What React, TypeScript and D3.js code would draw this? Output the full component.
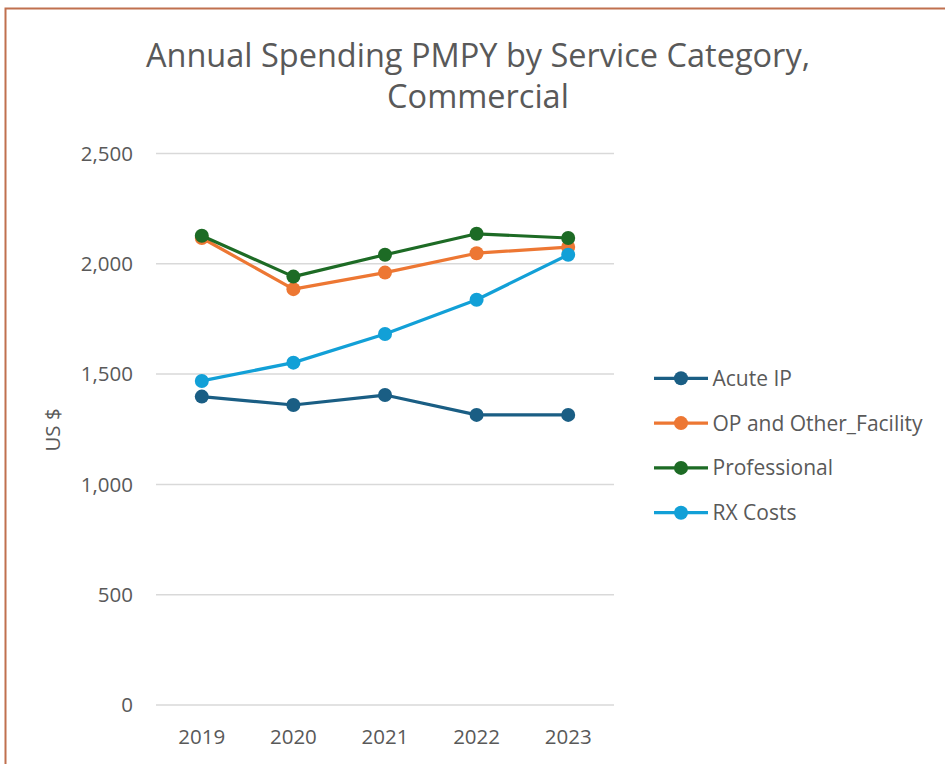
import React from "react";
import * as d3 from "d3";

const years = ["2019", "2020", "2021", "2022", "2023"];
const acuteIP = [1398, 1360, 1405, 1315, 1315];
const opOther = [2117, 1885, 1960, 2048, 2076];
const professional = [2127, 1942, 2041, 2136, 2117];
const rxCosts = [1469, 1552, 1682, 1837, 2041];
const yTicks = [0, 500, 1000, 1500, 2000, 2500];
const seriesNames = ["Acute IP", "OP and Other_Facility", "Professional", "RX Costs"];
const seriesColors = ["#1a5e84", "#ed7733", "#1d6b25", "#12a0d7"];
const titleLines = ["Annual Spending PMPY by Service Category,", "Commercial"];
const yAxisTitle = "US $";

const W = 945;
const H = 764;
const FONT = "'Open Sans', sans-serif";
const TEXT = "#595959";

export default function App() {
  const x = d3.scaleBand<string>().domain(years).range([156, 614]).padding(0);
  const y = d3.scaleLinear().domain([0, 2500]).range([705, 153.5]);
  const cx = (yr: string) => (x(yr) as number) + x.bandwidth() / 2;
  const allSeries = [acuteIP, opOther, professional, rxCosts];
  const line = d3
    .line<number>()
    .x((_, i) => cx(years[i]))
    .y((v) => y(v));
  const fmt = d3.format(",");

  return (
    <svg
      width={W}
      height={H}
      style={{ position: "absolute", left: 0, top: 0, background: "#fff" }}
      fontFamily={FONT}
    >
      <rect x={0} y={0} width={W} height={H} fill="#fff" />
      {/* border */}
      <path d={`M5.5,${H} V8.5 H${W}`} fill="none" stroke="#c0704f" strokeWidth={2} />
      {/* title */}
      {titleLines.map((t, i) => (
        <text
          key={t}
          x={478}
          y={67 + i * 41}
          textAnchor="middle"
          fontSize={32.5}
          fill={TEXT}
        >
          {t}
        </text>
      ))}
      {/* gridlines */}
      {yTicks.map((t) => (
        <g key={t}>
          <line x1={156} x2={614} y1={y(t)} y2={y(t)} stroke="#d9d9d9" strokeWidth={1.5} />
          <text
            x={133}
            y={y(t)}
            dy="0.36em"
            textAnchor="end"
            fontSize={20.5}
            fill={TEXT}
          >
            {fmt(t)}
          </text>
        </g>
      ))}
      {/* x labels */}
      {years.map((yr) => (
        <text key={yr} x={cx(yr)} y={737} dy="0.36em" textAnchor="middle" fontSize={20.5} fill={TEXT}>
          {yr}
        </text>
      ))}
      {/* y title */}
      <text
        transform={`translate(53,430) rotate(-90)`}
        textAnchor="middle"
        dy="0.36em"
        fontSize={20.5}
        fill={TEXT}
      >
        {yAxisTitle}
      </text>
      {/* series */}
      {allSeries.map((s, si) => (
        <g key={seriesNames[si]}>
          <path d={line(s) || ""} fill="none" stroke={seriesColors[si]} strokeWidth={3.2} strokeLinejoin="round" />
          {s.map((v, i) => (
            <circle key={i} cx={cx(years[i])} cy={y(v)} r={7} fill={seriesColors[si]} />
          ))}
        </g>
      ))}
      {/* legend */}
      {seriesNames.map((n, i) => {
        const ly = 378.3 + i * 44.8;
        return (
          <g key={n}>
            <line x1={654} x2={708} y1={ly} y2={ly} stroke={seriesColors[i]} strokeWidth={3.2} />
            <circle cx={681} cy={ly} r={7} fill={seriesColors[i]} />
            <text x={712.5} y={ly} dy="0.36em" fontSize={21} fill={TEXT}>
              {n}
            </text>
          </g>
        );
      })}
    </svg>
  );
}
